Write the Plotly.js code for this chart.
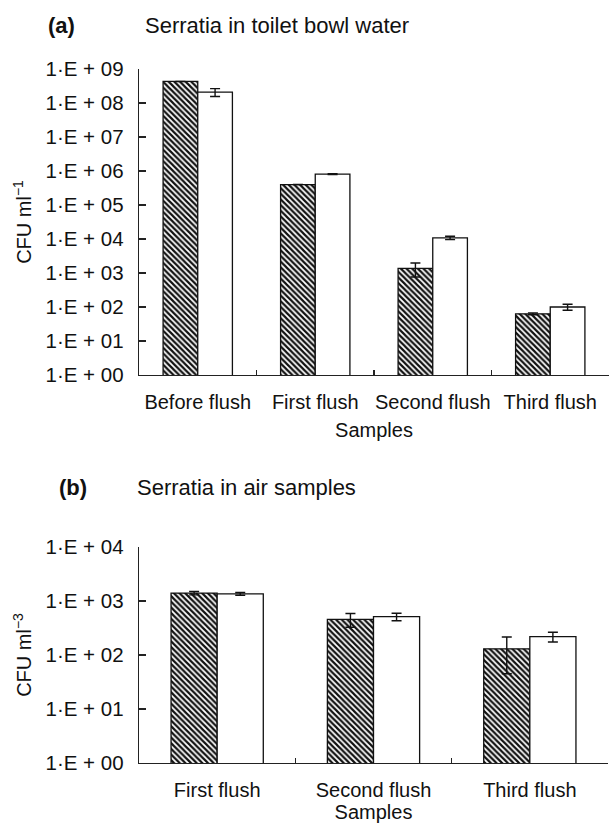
<!DOCTYPE html>
<html>
<head>
<meta charset="utf-8">
<script src="https://cdn.plot.ly/plotly-3.0.1.min.js"></script>
<style>html,body{margin:0;padding:0;background:#fff;}#chart{width:609px;height:823px;}</style>
</head>
<body>
<div id="chart"></div>
<script>
// ---- Data ----
const categoriesA = ["Before flush", "First flush", "Second flush", "Third flush"];
const hatchedA    = [4.3e8, 4.0e5, 1.36e3, 63];
const hatchedErrA = [0, 0, 600, 4];
const openA       = [2.1e8, 8.1e5, 1.08e4, 100];
const openErrA    = [5.5e7, 2.0e4, 1.2e3, 20];

const categoriesB = ["First flush", "Second flush", "Third flush"];
const hatchedB    = [1.4e3, 457, 130];
const hatchedErrB = [100, 130, 85];
const openB       = [1.36e3, 512, 219];
const openErrB    = [80, 80, 45];

const tickValsA = [1, 1e1, 1e2, 1e3, 1e4, 1e5, 1e6, 1e7, 1e8, 1e9];
const tickTextA = ["1·E + 00", "1·E + 01", "1·E + 02", "1·E + 03", "1·E + 04",
                   "1·E + 05", "1·E + 06", "1·E + 07", "1·E + 08", "1·E + 09"];
const tickValsB = [1, 1e1, 1e2, 1e3, 1e4];
const tickTextB = ["1·E + 00", "1·E + 01", "1·E + 02", "1·E + 03", "1·E + 04"];

const titleA = "Serratia in toilet bowl water";
const titleB = "Serratia in air samples";
const yTitleA = "CFU ml<sup>−1</sup>";
const yTitleB = "CFU ml<sup>−3</sup>";
const xTitle = "Samples";

// ---- Styles ----
const FONT = "Liberation Sans, Arial, Helvetica, sans-serif";
const W = 609, H = 823;
const hatchMarker = {
  color: "#ffffff",
  line: {color: "#111", width: 1.3},
  pattern: {shape: "\\", fgcolor: "#111", bgcolor: "#ffffff", size: 4, solidity: 0.55, fillmode: "replace"}
};
const openMarker = {color: "#ffffff", line: {color: "#111", width: 1.3}};
function err(arr) { return {type: "data", array: arr, visible: true, color: "#111", thickness: 1.4, width: 5}; }

const traces = [
  {type: "bar", x: categoriesA, y: hatchedA, error_y: err(hatchedErrA), marker: hatchMarker, xaxis: "x", yaxis: "y", showlegend: false},
  {type: "bar", x: categoriesA, y: openA, error_y: err(openErrA), marker: openMarker, xaxis: "x", yaxis: "y", showlegend: false},
  {type: "bar", x: categoriesB, y: hatchedB, error_y: err(hatchedErrB), marker: hatchMarker, xaxis: "x2", yaxis: "y2", showlegend: false},
  {type: "bar", x: categoriesB, y: openB, error_y: err(openErrB), marker: openMarker, xaxis: "x2", yaxis: "y2", showlegend: false}
];

function px2x(p) { return p / W; }
function px2y(p) { return 1 - p / H; }

const xCommon = {
  type: "category", showline: true, linecolor: "#222", linewidth: 1.3,
  ticks: "inside", ticklen: 5, tickcolor: "#222", tickwidth: 1.2, tickson: "boundaries",
  showgrid: false, zeroline: false, fixedrange: true, tickangle: 0,
  tickfont: {family: FONT, size: 20, color: "#111"}, ticklabelstandoff: 9
};
const yCommon = {
  type: "log", showline: true, linecolor: "#222", linewidth: 1.3,
  ticks: "inside", ticklen: 7, tickcolor: "#222", tickwidth: 1.2,
  showgrid: false, zeroline: false, tickmode: "array", fixedrange: true,
  tickfont: {family: FONT, size: 20.5, color: "#111"}, ticklabelstandoff: 10
};

const layout = {
  width: W, height: H,
  margin: {l: 0, r: 0, t: 0, b: 0},
  paper_bgcolor: "#fff", plot_bgcolor: "#fff",
  barmode: "group", bargap: 0.41, bargroupgap: 0,
  font: {family: FONT, size: 20, color: "#111"},
  xaxis: Object.assign({}, xCommon, {domain: [px2x(139), px2x(609)], anchor: "y",
    title: {text: xTitle, font: {family: FONT, size: 20, color: "#111"}, standoff: 10}}),
  yaxis: Object.assign({}, yCommon, {domain: [px2y(375), px2y(69)], anchor: "x", range: [0, 9],
    tickvals: tickValsA, ticktext: tickTextA,
    title: {text: yTitleA, font: {family: FONT, size: 20, color: "#111"}, standoff: 8}}),
  xaxis2: Object.assign({}, xCommon, {domain: [px2x(139), px2x(608)], anchor: "y2",
    title: {text: xTitle, font: {family: FONT, size: 20, color: "#111"}, standoff: 8}}),
  yaxis2: Object.assign({}, yCommon, {domain: [px2y(763), px2y(547)], anchor: "x2", range: [0, 4],
    tickvals: tickValsB, ticktext: tickTextB,
    title: {text: yTitleB, font: {family: FONT, size: 20, color: "#111"}, standoff: 8}}),
  annotations: [
    {text: "<b>(a)</b>", xref: "paper", yref: "paper", x: px2x(46), y: px2y(25), xanchor: "left", yanchor: "middle",
     showarrow: false, font: {family: FONT, size: 22, color: "#111"}},
    {text: titleA, xref: "paper", yref: "paper", x: px2x(143), y: px2y(25), xanchor: "left", yanchor: "middle",
     showarrow: false, font: {family: FONT, size: 22, color: "#111"}},
    {text: "<b>(b)</b>", xref: "paper", yref: "paper", x: px2x(57), y: px2y(487), xanchor: "left", yanchor: "middle",
     showarrow: false, font: {family: FONT, size: 22, color: "#111"}},
    {text: titleB, xref: "paper", yref: "paper", x: px2x(135), y: px2y(487), xanchor: "left", yanchor: "middle",
     showarrow: false, font: {family: FONT, size: 22, color: "#111"}}
  ]
};

Plotly.newPlot("chart", traces, layout, {staticPlot: true, displayModeBar: false});
</script>
</body>
</html>
